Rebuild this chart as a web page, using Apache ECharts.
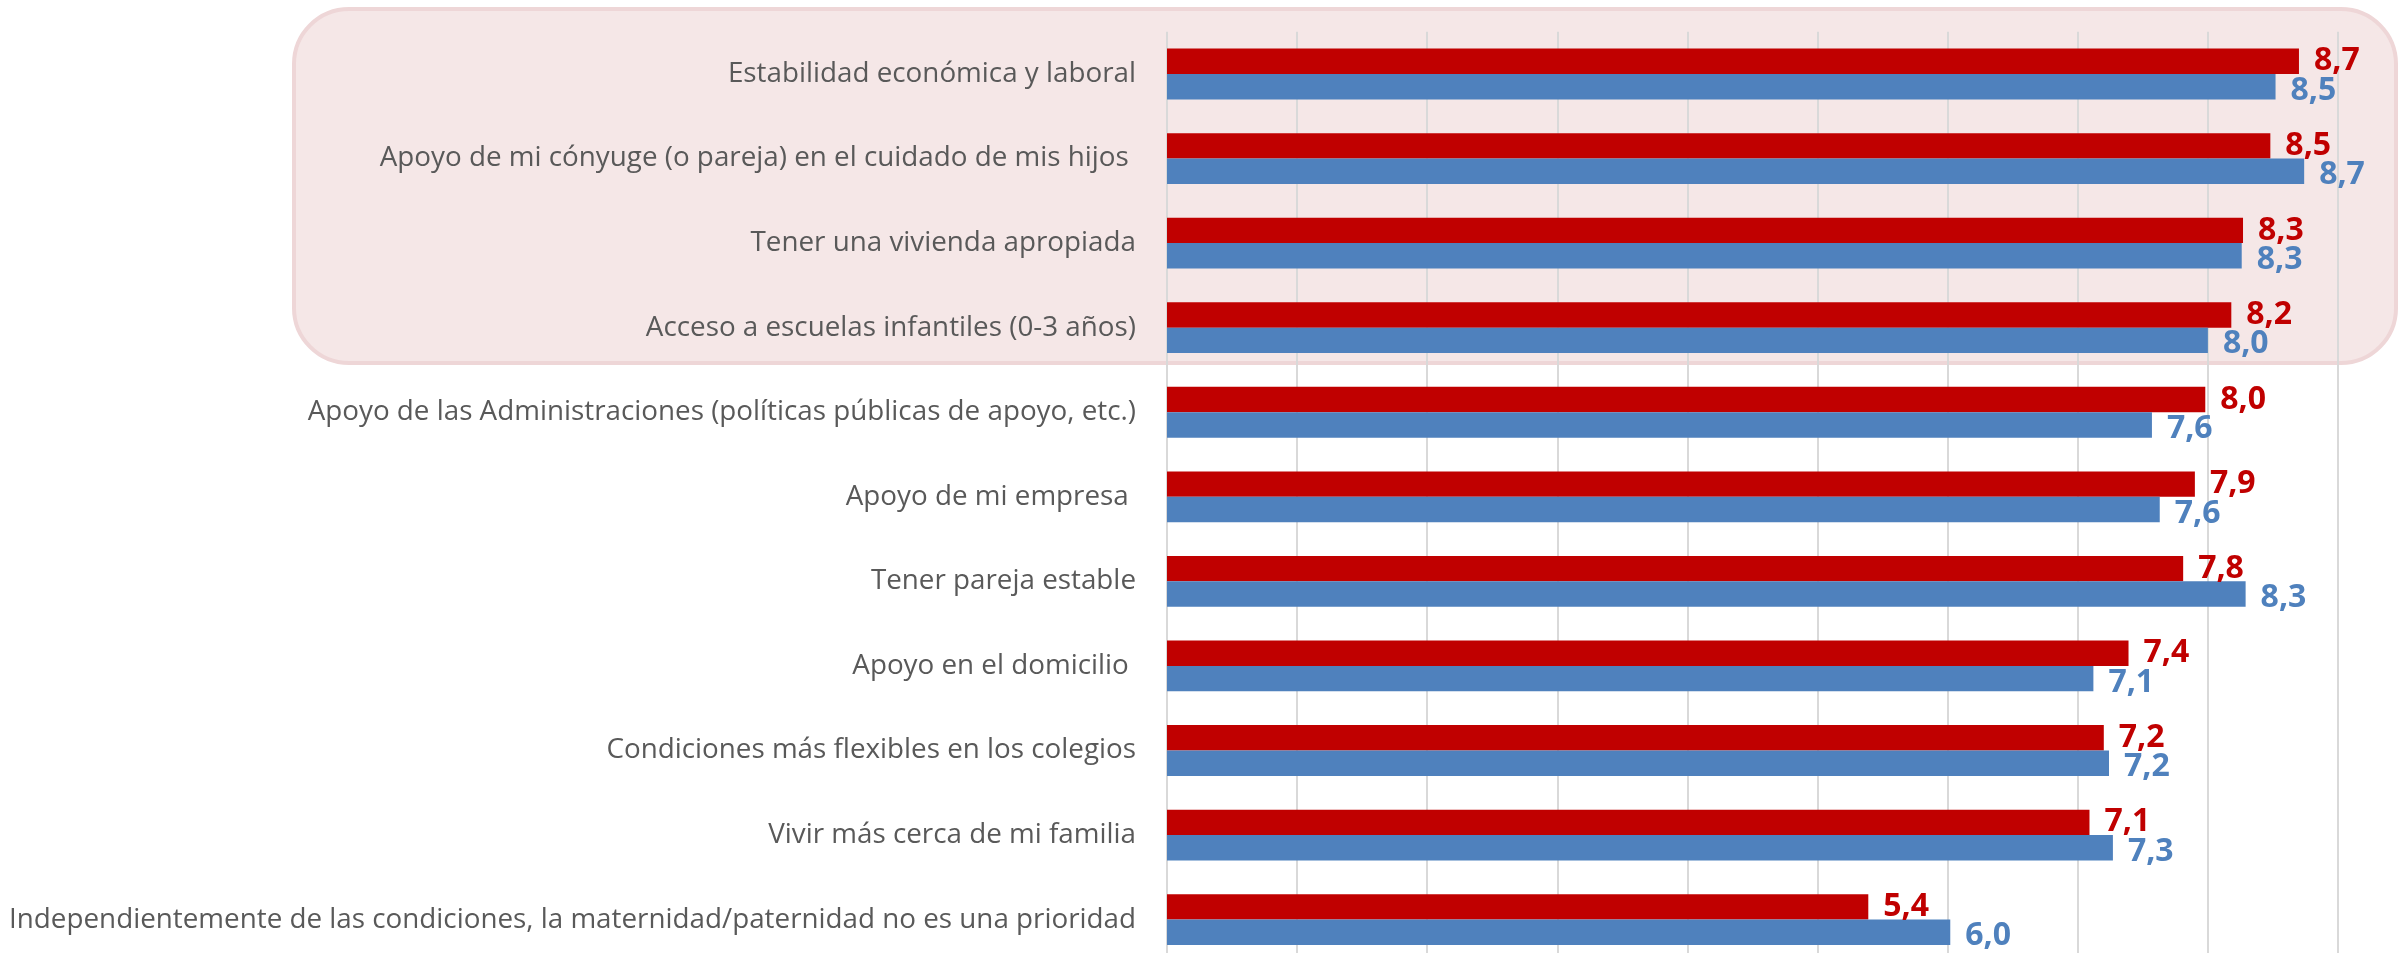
<!DOCTYPE html>
<html>
<head>
<meta charset="utf-8">
<script src="https://cdn.jsdelivr.net/npm/echarts@6/dist/echarts.min.js"></script>
<style>
  html, body { margin: 0; padding: 0; background: #ffffff; }
  #chart { width: 2402px; height: 953px; }
</style>
</head>
<body>
<div id="chart"></div>
<script>
const categories = [
  "Estabilidad económica y laboral",
  "Apoyo de mi cónyuge (o pareja) en el cuidado de mis hijos ",
  "Tener una vivienda apropiada",
  "Acceso a escuelas infantiles (0-3 años)",
  "Apoyo de las Administraciones (políticas públicas de apoyo, etc.)",
  "Apoyo de mi empresa ",
  "Tener pareja estable",
  "Apoyo en el domicilio ",
  "Condiciones más flexibles en los colegios",
  "Vivir más cerca de mi familia",
  "Independientemente de las condiciones, la maternidad/paternidad no es una prioridad"
];
const redValues  = [8.70, 8.48, 8.27, 8.18, 7.98, 7.90, 7.81, 7.39, 7.20, 7.09, 5.39];
const blueValues = [8.52, 8.74, 8.26, 8.00, 7.57, 7.63, 8.29, 7.12, 7.24, 7.27, 6.02];
const xTicks = [0, 1, 2, 3, 4, 5, 6, 7, 8, 9];

const fmt = p => p.value.toFixed(1).replace('.', ',');

const chart = echarts.init(document.getElementById('chart'), null, { renderer: 'canvas' });
chart.setOption({
  backgroundColor: '#ffffff',
  animation: false,
  graphic: [{
    type: 'rect',
    z: -10,
    silent: true,
    shape: { x: 294, y: 9, width: 2102, height: 354, r: 55 },
    style: { fill: '#F5E7E7', stroke: '#EED6D7', lineWidth: 4 }
  }],
  grid: { left: 1167, top: 31.7, width: 1171, height: 930.2, containLabel: false, outerBoundsMode: 'none' },
  xAxis: {
    type: 'value',
    min: xTicks[0],
    max: xTicks[xTicks.length - 1],
    interval: 1,
    axisLabel: { show: false },
    axisLine: { show: false },
    axisTick: { show: false },
    splitLine: { show: true, lineStyle: { color: '#D9D9D9', width: 2 } }
  },
  yAxis: {
    type: 'category',
    inverse: true,
    data: categories,
    axisLine: { show: false },
    axisTick: { show: false },
    axisLabel: {
      margin: 31,
      fontFamily: 'Open Sans',
      fontSize: 27.8,
      color: '#595959'
    }
  },
  series: [
    {
      name: 'rojo',
      type: 'bar',
      data: redValues,
      barWidth: 25.4,
      barGap: '0%',
      itemStyle: { color: '#C00000' },
      label: {
        show: true, position: 'right', distance: 15, formatter: fmt,
        fontFamily: 'Open Sans', fontWeight: 'bold', fontSize: 32, color: '#C00000'
      }
    },
    {
      name: 'azul',
      type: 'bar',
      data: blueValues,
      barWidth: 25.4,
      barGap: '0%',
      itemStyle: { color: '#4F81BD' },
      label: {
        show: true, position: 'right', distance: 15, offset: [0, 4], formatter: fmt,
        fontFamily: 'Open Sans', fontWeight: 'bold', fontSize: 32, color: '#4F81BD'
      }
    }
  ]
});
</script>
</body>
</html>
